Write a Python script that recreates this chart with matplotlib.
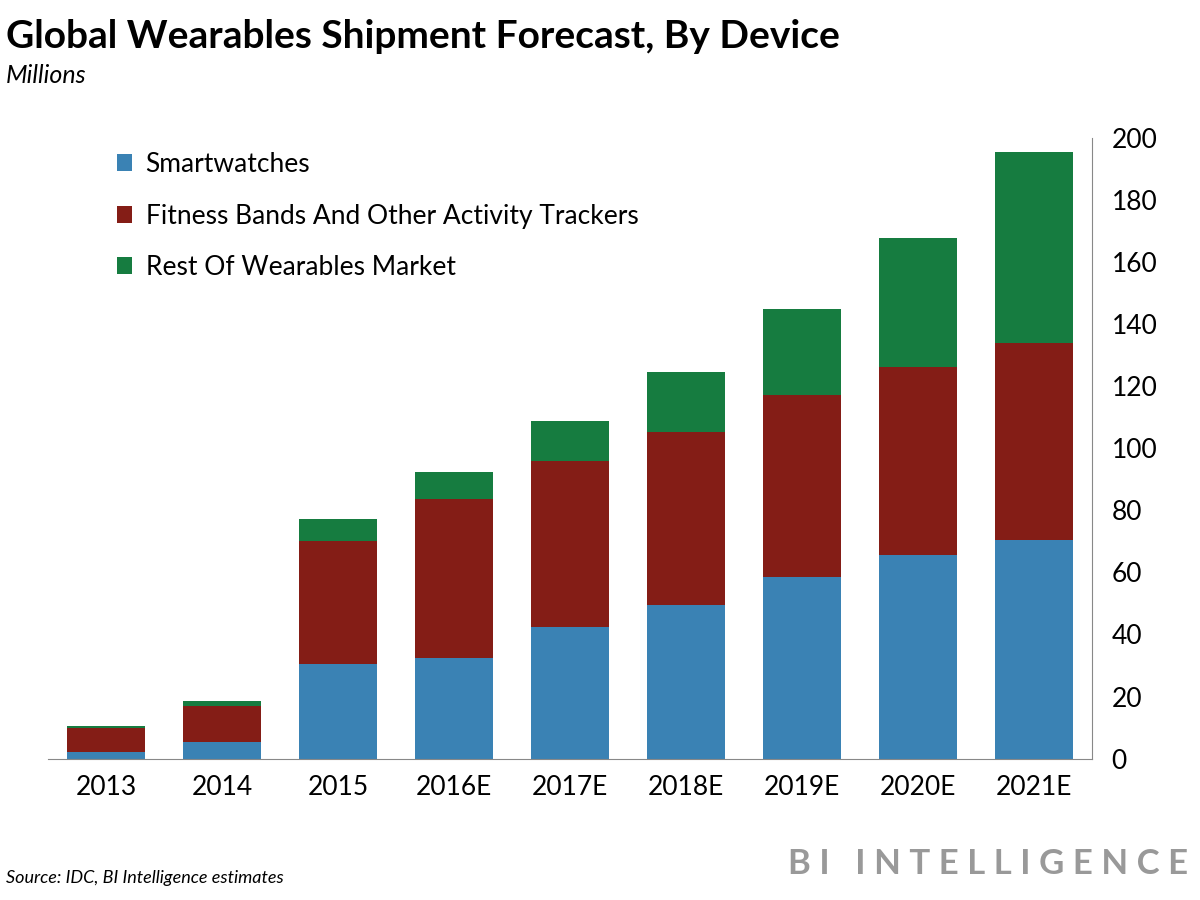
import matplotlib.pyplot as plt
import numpy as np

plt.rcParams['font.family'] = ['Lato', 'DejaVu Sans']

years = ["2013", "2014", "2015", "2016E", "2017E", "2018E", "2019E", "2020E", "2021E"]
smartwatches = [2.3, 5.5, 30.4, 32.3, 42.3, 49.4, 58.5, 65.6, 70.4]
fitness = [7.7, 11.5, 39.6, 51.4, 53.7, 55.9, 58.5, 60.7, 63.4]
rest = [0.5, 1.7, 7.2, 8.7, 12.6, 19.1, 27.7, 41.4, 61.7]

c_blue, c_red, c_green = "#3a82b4", "#841d16", "#167c40"

fig = plt.figure(figsize=(12, 9), dpi=100)
ax = fig.add_axes([0.04, 0.157, 0.87, 0.69])
x = np.arange(len(years))
w = 0.68
ax.bar(x, smartwatches, w, color=c_blue, label="Smartwatches")
ax.bar(x, fitness, w, bottom=smartwatches, color=c_red,
       label="Fitness Bands And Other Activity Trackers")
bot2 = np.array(smartwatches) + np.array(fitness)
ax.bar(x, rest, w, bottom=bot2, color=c_green, label="Rest Of Wearables Market")

ax.set_ylim(0, 200)
ax.set_xlim(-0.5, len(years) - 0.5)
ax.set_yticks(range(0, 201, 20))
ax.yaxis.tick_right()
ax.set_xticks(x)
ax.set_xticklabels(years)
ax.tick_params(axis='both', labelsize=19, length=0, pad=12)
ax.tick_params(axis='y', pad=14)
for s in ["top", "left"]:
    ax.spines[s].set_visible(False)
ax.spines["right"].set_color("#888888")
ax.spines["bottom"].set_color("#888888")

leg = ax.legend(loc="upper left", bbox_to_anchor=(0.043, 1.015), frameon=False,
                fontsize=19, handlelength=0.6, handleheight=0.6,
                labelspacing=1.0, handletextpad=0.5)

fig.text(0.005, 0.96, "Global Wearables Shipment Forecast, By Device",
         fontsize=28, fontweight="bold", va="center")
fig.text(0.005, 0.916, "Millions", fontsize=18, style="italic", va="center")
fig.text(0.005, 0.015, "Source: IDC, BI Intelligence estimates",
         fontsize=13, style="italic", va="bottom")
fig.text(0.99, 0.022, "B I   I N T E L L I G E N C E", fontsize=25, color="#999999",
         fontweight="bold", ha="right", va="bottom")

fig.savefig("out.png")
